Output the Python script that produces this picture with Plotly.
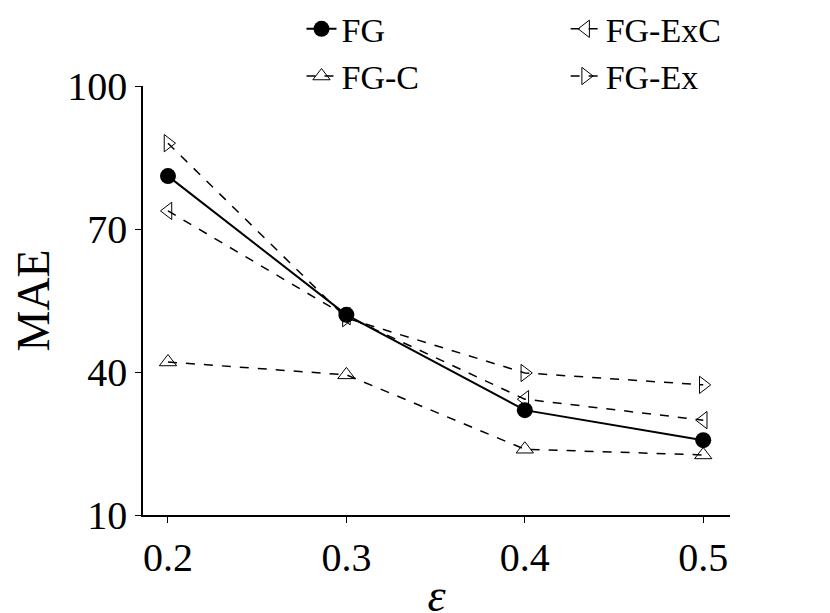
import plotly.graph_objects as go

eps = [0.2, 0.3, 0.4, 0.5]
fg = [81.1, 52.0, 32.0, 25.7]
fg_c = [42.1, 39.4, 23.8, 22.6]
fg_exc = [73.8, 51.7, 34.3, 29.9]
fg_ex = [88.0, 51.3, 39.8, 37.3]

fig = go.Figure()
fig.add_trace(go.Scatter(x=eps, y=fg, name="FG", mode="lines+markers",
    line=dict(color="black", width=2), marker=dict(symbol="circle", size=16, color="black")))
fig.add_trace(go.Scatter(x=eps, y=fg_exc, name="FG-ExC", mode="lines+markers",
    line=dict(color="black", width=1.5, dash="dash"),
    marker=dict(symbol="triangle-left-open", size=15, color="black", line=dict(width=1))))
fig.add_trace(go.Scatter(x=eps, y=fg_c, name="FG-C", mode="lines+markers",
    line=dict(color="black", width=1.5, dash="dash"),
    marker=dict(symbol="triangle-up-open", size=15, color="black", line=dict(width=1))))
fig.add_trace(go.Scatter(x=eps, y=fg_ex, name="FG-Ex", mode="lines+markers",
    line=dict(color="black", width=1.5, dash="dash"),
    marker=dict(symbol="triangle-right-open", size=15, color="black", line=dict(width=1))))

fig.update_layout(
    width=830, height=613, plot_bgcolor="white", paper_bgcolor="white",
    margin=dict(l=135, r=108, t=78, b=106, autoexpand=False),
    font=dict(family="Liberation Serif", color="black", size=40),
    legend=dict(orientation="h", x=0.27, y=1.2, xanchor="left", yanchor="top",
                entrywidth=0.45, entrywidthmode="fraction", font=dict(size=34),
                bgcolor="rgba(0,0,0,0)", tracegroupgap=0),
    xaxis=dict(range=[0.186, 0.515], tickvals=eps, ticktext=["0.2", "0.3", "0.4", "0.5"],
               showline=True, linecolor="black", linewidth=1.5, ticks="outside", ticklen=6,
               tickcolor="black", showgrid=False, zeroline=False, tickfont=dict(size=40),
               title=dict(text="<i>ε</i>", font=dict(size=46), standoff=4)),
    yaxis=dict(range=[10, 100], tickvals=[10, 40, 70, 100],
               showline=True, linecolor="black", linewidth=1.5, ticks="outside", ticklen=6,
               tickcolor="black", showgrid=False, zeroline=False, tickfont=dict(size=40),
               title=dict(text="MAE", font=dict(size=46), standoff=6)),
)
fig.write_html("out.html")
